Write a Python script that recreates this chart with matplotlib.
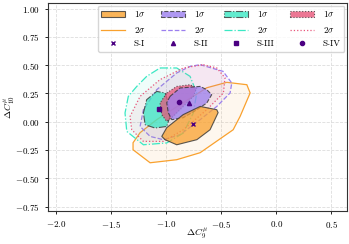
import numpy as np
import matplotlib
matplotlib.use('Agg')
import matplotlib.pyplot as plt
from matplotlib.patches import Polygon, Patch
from matplotlib.lines import Line2D

plt.rcParams['mathtext.fontset'] = 'cm'
plt.rcParams['font.family'] = 'serif'
plt.rcParams['font.serif'] = ['cmr10', 'DejaVu Serif']
plt.rcParams['axes.formatter.use_mathtext'] = True

# contour outlines (C9, C10)
s1_1s_x = [-0.539, -0.527, -0.60, -0.72, -0.903, -1.009, -1.039, -0.994, -0.845, -0.69]
s1_1s_y = [0.106, 0.080, -0.071, -0.159, -0.204, -0.159, -0.130, -0.053, 0.062, 0.135]
s1_2s_x = [-1.30, -1.30, -1.236, -1.085, -0.845, -0.63, -0.448, -0.266, -0.236, -0.327, -0.39, -0.69, -0.903, -1.145]
s1_2s_y = [-0.248, -0.186, -0.097, 0.018, 0.168, 0.300, 0.348, 0.327, 0.254, 0.047, -0.071, -0.274, -0.336, -0.363]

s2_1s_x = [-0.964, -0.873, -0.69, -0.63, -0.585, -0.63, -0.72, -0.845, -0.948, -0.98, -0.994]
s2_1s_y = [0.224, 0.298, 0.312, 0.283, 0.239, 0.165, 0.106, 0.035, 0.018, 0.080, 0.168]
s2_2s_x = [-0.69, -0.482, -0.403, -0.418, -0.539, -0.69, -0.873, -1.025, -1.145, -1.236, -1.206, -1.085, -0.903, -0.782]
s2_2s_y = [0.504, 0.445, 0.342, 0.254, 0.135, 0.018, -0.115, -0.159, -0.130, -0.042, 0.106, 0.283, 0.431, 0.489]

s3_1s_x = [-1.206, -1.176, -1.085, -1.009, -0.979, -0.964, -0.994, -1.10, -1.19]
s3_1s_y = [0.077, 0.195, 0.268, 0.254, 0.165, 0.047, -0.042, -0.056, -0.027]
s3_2s_x = [-1.055, -0.903, -0.782, -0.721, -0.752, -0.843, -0.994, -1.206, -1.357, -1.373, -1.343, -1.266, -1.176]
s3_2s_y = [0.475, 0.475, 0.401, 0.254, 0.077, -0.100, -0.188, -0.204, -0.086, 0.077, 0.224, 0.312, 0.401]

s4_1s_x = [-0.994, -0.903, -0.782, -0.721, -0.752, -0.843, -0.934, -0.994, -1.039, -1.055]
s4_1s_y = [0.254, 0.312, 0.327, 0.298, 0.224, 0.135, 0.047, 0.003, 0.062, 0.165]
s4_2s_x = [-0.661, -0.539, -0.464, -0.479, -0.63, -0.843, -1.025, -1.206, -1.312, -1.327, -1.236, -1.055, -0.843]
s4_2s_y = [0.504, 0.475, 0.387, 0.254, 0.106, -0.071, -0.174, -0.174, -0.071, 0.047, 0.224, 0.372, 0.475]

# best-fit points
bf_labels = ['S-I', 'S-II', 'S-III', 'S-IV']
bf_x = [-0.757, -0.794, -1.06, -0.879]
bf_y = [-0.018, 0.165, 0.112, 0.171]

colors = ['#f9a12e', '#9b7fef', '#3be8c4', '#e8557a']
styles = ['-', '--', '-.', ':']
markers = ['x', '^', 's', 'o']
mcolor = '#4b0082'

sets = [(s1_1s_x, s1_1s_y, s1_2s_x, s1_2s_y),
        (s2_1s_x, s2_1s_y, s2_2s_x, s2_2s_y),
        (s3_1s_x, s3_1s_y, s3_2s_x, s3_2s_y),
        (s4_1s_x, s4_1s_y, s4_2s_x, s4_2s_y)]

fig = plt.figure(figsize=(3.49, 2.44), dpi=100)
ax = fig.add_axes([0.1375, 0.135, 0.857, 0.853])

# 2 sigma regions first (light fill + coloured outline)
for (x1, y1, x2, y2), c, ls in zip(sets, colors, styles):
    ax.add_patch(Polygon(np.column_stack([x2, y2]), closed=True, facecolor=c, alpha=0.08, edgecolor='none'))
    ax.add_patch(Polygon(np.column_stack([x2, y2]), closed=True, fill=False, edgecolor=c, linestyle=ls, lw=0.9))

# 1 sigma regions, drawn cyan, red, purple, orange
for i in [2, 3, 1, 0]:
    x1, y1 = sets[i][0], sets[i][1]
    ax.add_patch(Polygon(np.column_stack([x1, y1]), closed=True, facecolor=colors[i], alpha=0.75,
                         edgecolor='none'))
    ax.add_patch(Polygon(np.column_stack([x1, y1]), closed=True, fill=False, edgecolor='#333333',
                         linestyle=styles[i], lw=0.8, alpha=0.8))

for x, y, m in zip(bf_x, bf_y, markers):
    ax.plot(x, y, marker=m, color=mcolor, ms=3, mew=1, ls='none')

ax.set_xlim(-2.073, 0.645)
ax.set_ylim(-0.79, 1.05)
ax.set_xticks([-2.0, -1.5, -1.0, -0.5, 0.0, 0.5])
ax.set_yticks([-0.75, -0.5, -0.25, 0.0, 0.25, 0.5, 0.75, 1.0])
ax.tick_params(labelsize=6.5, length=2.5, width=0.6)
ax.grid(True, ls='--', color='#dddddd', lw=0.6)
ax.set_axisbelow(True)
for sp in ax.spines.values():
    sp.set_linewidth(0.8)
    sp.set_color('#333333')
ax.set_xlabel(r'$\Delta C_9^{\mu}$', fontsize=7)
ax.set_ylabel(r'$\Delta C_{10}^{\mu}$', fontsize=7)
ax.xaxis.set_label_coords(0.5, -0.075)
ax.yaxis.set_label_coords(-0.105, 0.5)

handles = []
labels = []
for i in range(4):
    handles.append(Patch(facecolor=colors[i], edgecolor='#333333', linestyle=styles[i], alpha=0.8, lw=0.8))
    labels.append(r'$1\sigma$')
    handles.append(Line2D([], [], color=colors[i], ls=styles[i], lw=0.9))
    labels.append(r'$2\sigma$')
    handles.append(Line2D([], [], color=mcolor, marker=markers[i], ls='none', ms=3, mew=1))
    labels.append(bf_labels[i])

ax.legend(handles, labels, ncol=4, loc='upper right', fontsize=6.5, frameon=True,
          handlelength=2.6, handleheight=0.6, columnspacing=1.75, handletextpad=1.0, borderpad=0.4,
          labelspacing=0.6, borderaxespad=0.3)

fig.savefig('out.png', dpi=100)
